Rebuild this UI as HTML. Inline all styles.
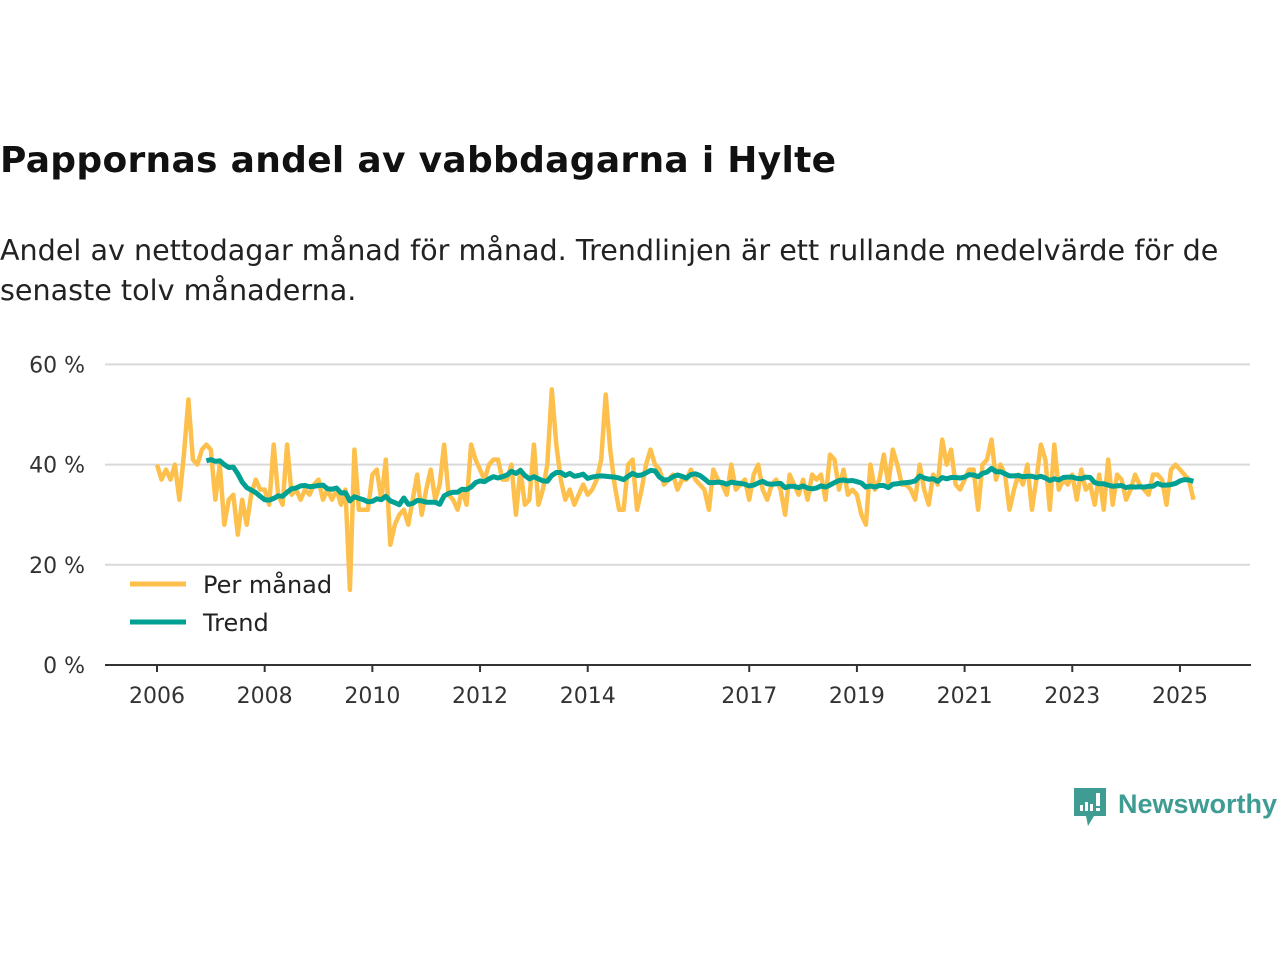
<!DOCTYPE html>
<html><head><meta charset="utf-8">
<style>
body{margin:0;background:#fff;width:1280px;height:960px;overflow:hidden;font-family:"DejaVu Sans",sans-serif;}
h1{position:absolute;left:0;top:140px;margin:0;font-family:"DejaVu Sans",sans-serif;font-size:36px;font-weight:bold;color:#111;letter-spacing:0.3px}
p{position:absolute;left:0;top:230px;margin:0;font-family:"DejaVu Sans",sans-serif;font-size:28.6px;line-height:40px;color:#222;width:1250px}
svg{position:absolute;left:0;top:0}
</style></head><body>
<h1>Pappornas andel av vabbdagarna i Hylte</h1>
<p>Andel av nettodagar månad för månad. Trendlinjen är ett rullande medelvärde för de senaste tolv månaderna.</p>
<svg id="chart" width="1280" height="960"></svg>
<script>
const monthly = [
40,37,39,37,40,33,42,53,41,40,43,44,
43,33,40,28,33,34,26,33,28,34,37,35,
35,32,44,34,32,44,34,35,33,35,34,36,
37,33,35,33,35,32,35,15,43,31,31,31,
38,39,33,41,24,28,30,31,28,33,38,30,
35,39,33,36,44,34,33,31,35,32,44,41,
39,37,40,41,41,37,37,40,30,39,32,33,
44,32,35,40,55,44,37,33,35,32,34,36,
34,35,37,41,54,43,36,31,31,40,41,31,
35,40,43,40,39,36,37,38,35,37,37,39,
37,36,35,31,39,37,36,34,40,35,36,37,
33,38,40,35,33,36,37,35,30,38,36,34,
37,33,38,37,38,33,42,41,35,39,34,35,
34,30,28,40,35,37,42,36,43,40,36,36,
35,33,40,35,32,38,36,45,40,43,36,35,
37,39,39,31,40,41,45,37,40,38,31,35,
38,36,40,31,37,44,41,31,44,35,37,36,
38,33,39,35,36,32,38,31,41,32,38,37,
33,35,38,36,35,34,38,38,37,32,39,40,
39,38,37,33];
const yTicks = [0,20,40,60];
const yTickLabels = ["0 %","20 %","40 %","60 %"];
const xTicks = [2006,2008,2010,2012,2014,2017,2019,2021,2023,2025];

const NS="http://www.w3.org/2000/svg";
const svg=document.getElementById('chart');
const x0=157, pxYear=53.84, y0=665, pxPct=5.01;
const xm=i=>x0+(i/12)*pxYear;
const xy=yr=>x0+(yr-2006)*pxYear;
const yv=v=>y0-v*pxPct;
function el(t,a){const e=document.createElementNS(NS,t);for(const k in a)e.setAttribute(k,a[k]);svg.appendChild(e);return e;}

yTicks.forEach((t,i)=>{
  if(t>0){const g=el('line',{x1:105,x2:1250,y1:yv(t),y2:yv(t),stroke:'#d9d9d9','stroke-width':2});
  
  }
  const tx=el('text',{x:85,y:yv(t)+8,'text-anchor':'end','font-size':22,fill:'#333','font-family':'DejaVu Sans, sans-serif'});
  tx.textContent=yTickLabels[i];
  
  
});
const ax=el('line',{x1:105,x2:1251,y1:y0,y2:y0,stroke:'#333','stroke-width':2});


xTicks.forEach(yr=>{
  const tk=el('line',{x1:xy(yr),x2:xy(yr),y1:y0,y2:y0+7,stroke:'#333','stroke-width':2});
  
  
  const tx=el('text',{x:xy(yr),y:703,'text-anchor':'middle','font-size':22,fill:'#333','font-family':'DejaVu Sans, sans-serif'});
  tx.textContent=yr;
  
  
});
const mp=monthly.map((v,i)=>xm(i).toFixed(1)+','+yv(v).toFixed(1)).join(' ');
const l1=el('polyline',{points:mp,fill:'none',stroke:'#fec04c','stroke-width':4.5,'stroke-linejoin':'round'});


const trend=[];
for(let i=11;i<monthly.length;i++){let s=0;for(let j=i-11;j<=i;j++)s+=monthly[j];trend.push([i,s/12]);}
const tp=trend.map(([i,v])=>xm(i).toFixed(1)+','+yv(v).toFixed(1)).join(' ');
const l2=el('polyline',{points:tp,fill:'none',stroke:'#00a193','stroke-width':5,'stroke-linejoin':'round'});


</script>
<svg width="1280" height="960" style="pointer-events:none">
<g font-family="DejaVu Sans, sans-serif" font-size="24" fill="#222">
<line x1="130" x2="186" y1="584" y2="584" stroke="#fec04c" stroke-width="5"/>
<text x="203" y="593">Per månad</text>
<line x1="130" x2="186" y1="622" y2="622" stroke="#00a193" stroke-width="5"/>
<text x="203" y="631">Trend</text>
</g>
<g>
<path d="M1074 788h32v28h-12l-6 10l-2-10h-12z" fill="#3f9c92"/>
<rect x="1080" y="805" width="3" height="6" fill="#fff"/>
<rect x="1085" y="802" width="3" height="9" fill="#fff"/>
<rect x="1090" y="804" width="3" height="7" fill="#fff"/>
<rect x="1096" y="793" width="4" height="13" fill="#fff"/>
<rect x="1096" y="808" width="4" height="3" fill="#fff"/>
<text x="1118" y="813" font-family="Liberation Sans, sans-serif" font-size="27" font-weight="bold" fill="#3f9c92">Newsworthy</text>
</g>
</svg>
</body></html>
